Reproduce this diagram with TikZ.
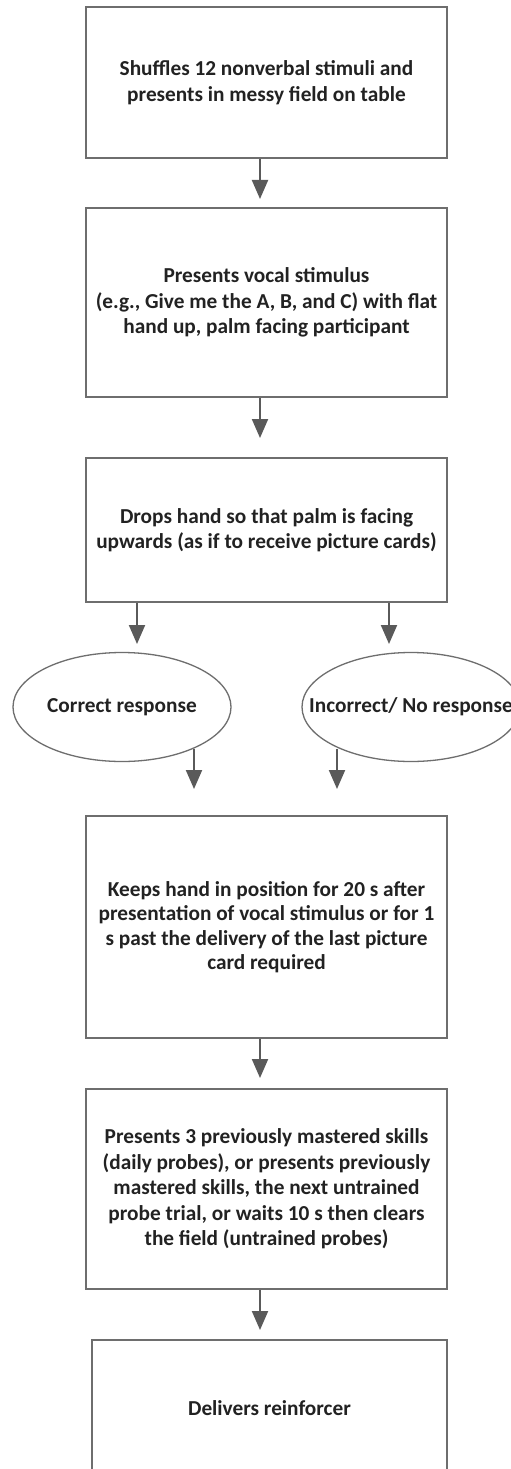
\documentclass[tikz,border=0pt]{standalone}
\usepackage{fontspec}
\setmainfont{Carlito}
\usetikzlibrary{arrows.meta,shapes.geometric}
\definecolor{boxline}{HTML}{6E6E6E}
\definecolor{arrowcol}{HTML}{5A5A5A}
\definecolor{txt}{HTML}{222222}
\begin{document}
\begin{tikzpicture}[x=1bp,y=-1bp,
  stepbox/.style={draw=boxline, line width=1.6bp, minimum width=361bp, inner sep=0pt,
    align=center, text=txt, font=\fontsize{21.3bp}{25.5bp}\selectfont\bfseries},
  oval/.style={draw=boxline, line width=1.3bp, ellipse, minimum width=218bp,
    minimum height=109bp, inner sep=0pt},
  lbl/.style={text=txt, inner sep=0pt, font=\fontsize{21.3bp}{25.5bp}\selectfont\bfseries},
  arr/.style={draw=arrowcol, line width=2bp, -{Triangle[length=19bp,width=16bp]}}]
\clip (0,0) rectangle (511,1469);
\fill[white] (0,0) rectangle (511,1469);

\node[stepbox, minimum height=151bp] (b1) at (266.5,82.5)
  {Shuffles 12 nonverbal stimuli and\\presents in messy field on table};
\node[stepbox, minimum height=189bp] (b2) at (266.5,302.5)
  {Presents vocal stimulus\\(e.g., Give me the A, B, and C) with flat\\hand up, palm facing participant};
\node[stepbox, minimum height=144bp] (b3) at (266.5,530)
  {Drops hand so that palm is facing\\upwards (as if to receive picture cards)};
\node[oval] (e1) at (122,707) {};
\node[lbl] (t1) at (e1) {Correct response};
\node[oval] (e2) at (411,707) {};
\node[lbl] (t2) at (e2) {Incorrect/ No response};
\node[stepbox, minimum height=222bp, font=\fontsize{21.3bp}{24.5bp}\selectfont\bfseries] (b4) at (266.5,927)
  {Keeps hand in position for 20 s after\\presentation of vocal stimulus or for 1\\s past the delivery of the last picture\\card required};
\node[stepbox, minimum height=200bp] (b5) at (266.5,1189)
  {Presents 3 previously mastered skills\\(daily probes), or presents previously\\mastered skills, the next untrained\\probe trial, or waits 10 s then clears\\the field (untrained probes)};
\node[stepbox, minimum height=136bp, minimum width=355bp] (b6) at (269.5,1408)
  {Delivers reinforcer};

\coordinate (a1) at (260,199);
\coordinate (a2) at (260,438);
\coordinate (a3l) at (137,644);
\coordinate (a3r) at (389,644);
\coordinate (a4l) at (194,789);
\coordinate (a4r) at (337,789);
\coordinate (a5) at (260,1078);
\coordinate (a6) at (260,1330);

\draw[arr] (b1.south -| a1) -- (a1);
\draw[arr] (b2.south -| a2) -- (a2);
\draw[arr] (b3.south -| a3l) -- (a3l);
\draw[arr] (b3.south -| a3r) -- (a3r);
\draw[arr] (e1.-30 -| a4l) -- (a4l);
\draw[arr] (e2.-150 -| a4r) -- (a4r);
\draw[arr] (b4.south -| a5) -- (a5);
\draw[arr] (b5.south -| a6) -- (a6);
\end{tikzpicture}
\end{document}
